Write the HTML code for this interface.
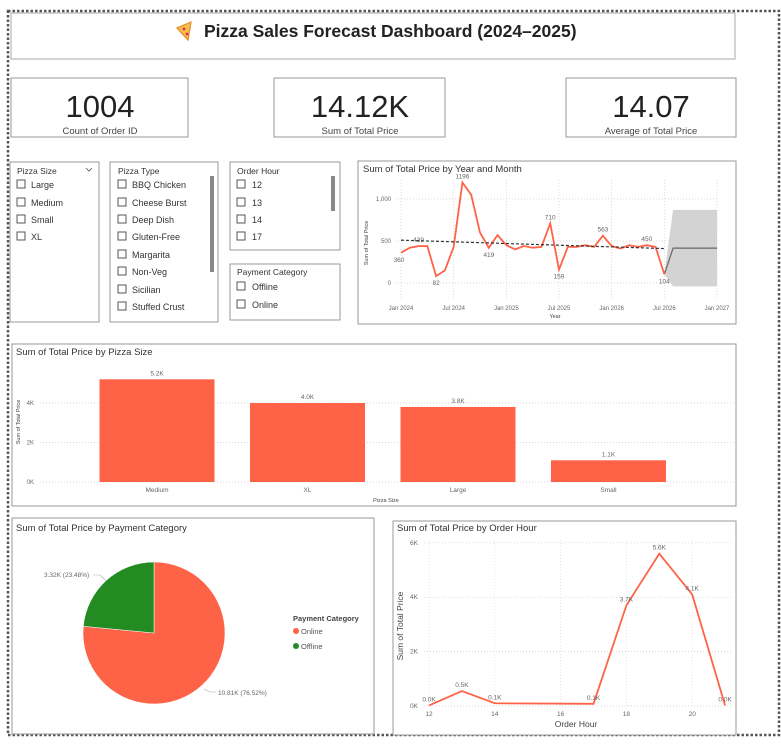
<!DOCTYPE html>
<html><head><meta charset="utf-8">
<style>
body{margin:0;background:#fff;font-family:"Liberation Sans","DejaVu Sans",sans-serif;}
svg text{font-family:"Liberation Sans","DejaVu Sans",sans-serif;}
</style></head>
<body>
<svg id="root" width="781" height="739" viewBox="0 0 781 739" xmlns="http://www.w3.org/2000/svg">
<rect x="0" y="0" width="781" height="739" fill="#fff"/>
<rect x="8" y="11" width="771" height="724" fill="none" stroke="#555" stroke-width="2.5" stroke-dasharray="2.5 2"/>

<g>
<rect x="11" y="13" width="724" height="46" fill="#fff" stroke="#aaa" stroke-width="1"/>
<g>
<path d="M191 22 L177 28 L188 40 Z" fill="#f7c04a" stroke="#e88a2a" stroke-width="1.2"/>
<circle cx="184" cy="29" r="1.4" fill="#e0245e"/>
<circle cx="187" cy="34" r="1.4" fill="#e0245e"/>
</g>
<text x="204" y="37" font-size="17.5" font-weight="bold" fill="#222">Pizza Sales Forecast Dashboard (2024–2025)</text>
</g>

<g>
<rect x="11" y="78" width="177" height="59" fill="#fff" stroke="#999"/>
<text x="100" y="117" font-size="31" text-anchor="middle" fill="#222">1004</text>
<text x="100" y="134" font-size="9.5" text-anchor="middle" fill="#444">Count of Order ID</text>
</g>
<g>
<rect x="274" y="78" width="171" height="59" fill="#fff" stroke="#999"/>
<text x="360" y="117" font-size="31" text-anchor="middle" fill="#222">14.12K</text>
<text x="360" y="134" font-size="9.5" text-anchor="middle" fill="#444">Sum of Total Price</text>
</g>
<g>
<rect x="566" y="78" width="170" height="59" fill="#fff" stroke="#999"/>
<text x="651" y="117" font-size="31" text-anchor="middle" fill="#222">14.07</text>
<text x="651" y="134" font-size="9.5" text-anchor="middle" fill="#444">Average of Total Price</text>
</g>

<g>
<rect x="10" y="162" width="89" height="160" fill="#fff" stroke="#999"/>
<text x="17" y="174" font-size="8.5" fill="#333">Pizza Size</text>
<path d="M86 168 l3 3 l3 -3" fill="none" stroke="#555" stroke-width="0.8"/>
<g font-size="9" fill="#333">
<rect x="17" y="180" width="8" height="8" fill="none" stroke="#555"/><text x="31" y="188">Large</text>
<rect x="17" y="198" width="8" height="8" fill="none" stroke="#555"/><text x="31" y="206">Medium</text>
<rect x="17" y="215" width="8" height="8" fill="none" stroke="#555"/><text x="31" y="223">Small</text>
<rect x="17" y="232" width="8" height="8" fill="none" stroke="#555"/><text x="31" y="240">XL</text>
</g></g>

<g>
<rect x="110" y="162" width="108" height="160" fill="#fff" stroke="#999"/>
<text x="118" y="174" font-size="8.5" fill="#333">Pizza Type</text>
<rect x="210" y="176" width="4" height="96" fill="#888"/>
<g font-size="9" fill="#333">
<rect x="118" y="180" width="8" height="8" fill="none" stroke="#555"/><text x="132" y="188">BBQ Chicken</text>
<rect x="118" y="198" width="8" height="8" fill="none" stroke="#555"/><text x="132" y="206">Cheese Burst</text>
<rect x="118" y="215" width="8" height="8" fill="none" stroke="#555"/><text x="132" y="223">Deep Dish</text>
<rect x="118" y="232" width="8" height="8" fill="none" stroke="#555"/><text x="132" y="240">Gluten-Free</text>
<rect x="118" y="250" width="8" height="8" fill="none" stroke="#555"/><text x="132" y="258">Margarita</text>
<rect x="118" y="267" width="8" height="8" fill="none" stroke="#555"/><text x="132" y="275">Non-Veg</text>
<rect x="118" y="285" width="8" height="8" fill="none" stroke="#555"/><text x="132" y="293">Sicilian</text>
<rect x="118" y="302" width="8" height="8" fill="none" stroke="#555"/><text x="132" y="310">Stuffed Crust</text>
</g></g>

<g>
<rect x="230" y="162" width="110" height="88" fill="#fff" stroke="#999"/>
<text x="237" y="174" font-size="8.5" fill="#333">Order Hour</text>
<rect x="331" y="176" width="4" height="35" fill="#888"/>
<g font-size="9" fill="#333">
<rect x="237" y="180" width="8" height="8" fill="none" stroke="#555"/><text x="252" y="188">12</text>
<rect x="237" y="198" width="8" height="8" fill="none" stroke="#555"/><text x="252" y="206">13</text>
<rect x="237" y="215" width="8" height="8" fill="none" stroke="#555"/><text x="252" y="223">14</text>
<rect x="237" y="232" width="8" height="8" fill="none" stroke="#555"/><text x="252" y="240">17</text>
</g></g>

<g>
<rect x="230" y="264" width="110" height="56" fill="#fff" stroke="#999"/>
<text x="237" y="275" font-size="8.5" fill="#333">Payment Category</text>
<g font-size="9" fill="#333">
<rect x="237" y="282" width="8" height="8" fill="none" stroke="#555"/><text x="252" y="290">Offline</text>
<rect x="237" y="300" width="8" height="8" fill="none" stroke="#555"/><text x="252" y="308">Online</text>
</g></g>

<g id="line1">
<rect x="358" y="161" width="378" height="163" fill="#fff" stroke="#999"/>
<text x="363" y="172" font-size="9.5" fill="#333">Sum of Total Price by Year and Month</text>
<text transform="translate(368,243) rotate(-90)" font-size="5.5" fill="#444" text-anchor="middle">Sum of Total Price</text>
<text x="555" y="318" font-size="5.5" fill="#444" text-anchor="middle">Year</text>
</g>

<g id="bar1">
<rect x="12" y="344" width="724" height="162" fill="#fff" stroke="#999"/>
<text x="16" y="355" font-size="9.5" fill="#333">Sum of Total Price by Pizza Size</text>
<text transform="translate(20,422) rotate(-90)" font-size="5.5" fill="#444" text-anchor="middle">Sum of Total Price</text>
<text x="386" y="502" font-size="5.5" fill="#444" text-anchor="middle">Pizza Size</text>
</g>

<g id="pie1">
<rect x="12" y="518" width="362" height="216" fill="#fff" stroke="#999"/>
<text x="16" y="531" font-size="9.5" fill="#333">Sum of Total Price by Payment Category</text>
<text x="293" y="621" font-size="7.5" font-weight="bold" fill="#444">Payment Category</text>
<circle cx="296" cy="631" r="3" fill="#ff6347"/>
<text x="301" y="634" font-size="7.5" fill="#555">Online</text>
<circle cx="296" cy="646" r="3" fill="#228b22"/>
<text x="301" y="649" font-size="7.5" fill="#555">Offline</text>
</g>

<g id="line2">
<rect x="393" y="521" width="343" height="214" fill="#fff" stroke="#999"/>
<text x="397" y="531" font-size="9.5" fill="#333">Sum of Total Price by Order Hour</text>
<text transform="translate(403,626) rotate(-90)" font-size="8.5" fill="#444" text-anchor="middle">Sum of Total Price</text>
<text x="576" y="727" font-size="8.5" fill="#444" text-anchor="middle">Order Hour</text>
</g>
</svg>
<script>
// ---------- Year/Month chart data ----------
const monthLabels = ["Jan 2024","Jul 2024","Jan 2025","Jul 2025","Jan 2026","Jul 2026","Jan 2027"];
const monthValues = [360,420,439,440,82,150,430,1196,1050,600,419,570,450,400,440,420,430,710,159,430,430,450,430,563,440,410,450,430,450,430,104];
const monthLabelIdx = [0,2,4,7,10,17,18,23,28,30];
const forecastValues = [415,415,415,415,415,415];
const forecastUpper = [870,870,870,870,870,870];
const forecastLower = [-40,-40,-40,-40,-40,-40];
const trendStartEnd = [510,410];
const monthTicks = [0,500,1000];
const monthTickLabels = ["0","500","1,000"];
// ---------- Pizza size ----------
const sizeCats = ["Medium","XL","Large","Small"];
const sizeVals = [5.2,4.0,3.8,1.1];
const sizeTicks = [0,2,4];
// ---------- Payment ----------
const payCats = ["Online","Offline"];
const payVals = [10.81,3.32];
const payPct = ["76.52%","23.48%"];
// ---------- Order hour ----------
const hourCats = [12,13,14,17,18,19,20,21];
const hourVals = [0.02,0.55,0.1,0.08,3.7,5.6,4.1,0.02];
const hourLabels = ["0.0K","0.5K","0.1K","0.1K","3.7K","5.6K","4.1K","0.0K"];
const hourTicks = [0,2,4,6];
const hourXTicks = [12,14,16,18,20];

const NS="http://www.w3.org/2000/svg";
function mk(parent,tag,attrs,txt){const e=document.createElementNS(NS,tag);for(const k in attrs)e.setAttribute(k,attrs[k]);if(txt!==undefined)e.textContent=txt;parent.appendChild(e);return e;}
const RED="#ff6347";

// Line chart 1
(function(){
 const g=document.getElementById('line1');
 const x=i=>401+i*(316/36), y=v=>283-v*0.084;
 monthTicks.forEach((t,i)=>{mk(g,'line',{x1:395,x2:718,y1:y(t),y2:y(t),stroke:'#ccc','stroke-dasharray':'1 2','stroke-width':0.7});
  const l=mk(g,'text',{x:391,y:y(t)+2,'font-size':6,fill:'#666','text-anchor':'end'},monthTickLabels[i]);
  
  });
 monthLabels.forEach((m,i)=>{mk(g,'line',{x1:x(i*6),x2:x(i*6),y1:180,y2:300,stroke:'#ccc','stroke-dasharray':'1 2','stroke-width':0.7});
  const l=mk(g,'text',{x:x(i*6),y:310,'font-size':6,fill:'#666','text-anchor':'middle'},m);
  
  });
 const n=monthValues.length-1;
 let up="M"+x(n)+" "+y(monthValues[n]), lo="";
 forecastUpper.forEach((v,i)=>up+=" L"+x(n+1+i)+" "+y(v));
 for(let i=forecastLower.length-1;i>=0;i--)lo+=" L"+x(n+1+i)+" "+y(forecastLower[i]);
 const band=mk(g,'path',{d:up+lo+" Z",fill:'#d3d3d3'});
 
 
 let fp="M"+x(n)+" "+y(monthValues[n]);forecastValues.forEach((v,i)=>fp+=" L"+x(n+1+i)+" "+y(v));
 const f=mk(g,'path',{d:fp,fill:'none',stroke:'#666','stroke-width':1.2});
 
 
 const p=mk(g,'path',{d:monthValues.map((v,i)=>(i?'L':'M')+x(i)+' '+y(v)).join(' '),fill:'none',stroke:RED,'stroke-width':1.8});
 
 
 const t=mk(g,'line',{x1:x(0),y1:y(trendStartEnd[0]),x2:x(n),y2:y(trendStartEnd[1]),stroke:'#333','stroke-dasharray':'3 2','stroke-width':1.2});
 
 
 monthLabelIdx.forEach(i=>{const v=monthValues[i];const above=(i===2||i===7||i===17||i===23||i===28);
  const l=mk(g,'text',{x:x(i)+(i===0?-2:0),y:above?y(v)-4:y(v)+9,'font-size':6.5,fill:'#666','text-anchor':'middle'},String(v));
  
  });
})();

// Bar chart
(function(){
 const g=document.getElementById('bar1');
 const y=v=>482-v*19.75, x=i=>157+i*150.5;
 sizeTicks.forEach(t=>{mk(g,'line',{x1:40,x2:735,y1:y(t),y2:y(t),stroke:'#ccc','stroke-dasharray':'1 2','stroke-width':0.7});
  const l=mk(g,'text',{x:34,y:y(t)+2,'font-size':6,fill:'#666','text-anchor':'end'},t+'K');
  
  });
 sizeCats.forEach((c,i)=>{
  const b=mk(g,'rect',{x:x(i)-57.5,y:y(sizeVals[i]),width:115,height:sizeVals[i]*19.75,fill:RED});
  
  
  const v=mk(g,'text',{x:x(i),y:y(sizeVals[i])-4,'font-size':6.5,fill:'#666','text-anchor':'middle'},sizeVals[i].toFixed(1)+'K');
  
  
  const l=mk(g,'text',{x:x(i),y:492,'font-size':6.5,fill:'#666','text-anchor':'middle'},c);
  
  });
})();

// Pie
(function(){
 const g=document.getElementById('pie1');
 const cx=154,cy=633,r=71,cols=[RED,'#228b22'];
 const tot=payVals.reduce((a,b)=>a+b,0);let a0=0;
 payVals.forEach((v,i)=>{const a1=a0+v/tot*2*Math.PI;
  const p=(a)=>[cx+r*Math.sin(a),cy-r*Math.cos(a)];
  const s=p(a0),e=p(a1),large=(a1-a0)>Math.PI?1:0;
  const sl=mk(g,'path',{d:`M${cx} ${cy} L${s[0]} ${s[1]} A${r} ${r} 0 ${large} 1 ${e[0]} ${e[1]} Z`,fill:cols[i],stroke:'#fff','stroke-width':0.5});
  
  
  a0=a1;});
 const l1=mk(g,'text',{x:218,y:695,'font-size':6.5,fill:'#666'},payVals[0].toFixed(2)+'K ('+payPct[0]+')');
 
 
 mk(g,'path',{d:'M204 689 L210 692 L216 692',fill:'none',stroke:'#aaa','stroke-width':0.6});
 const l2=mk(g,'text',{x:44,y:577,'font-size':6.5,fill:'#666'},payVals[1].toFixed(2)+'K ('+payPct[1]+')');
 
 
 mk(g,'path',{d:'M93 575 L100 575 L106 581',fill:'none',stroke:'#aaa','stroke-width':0.6});
})();

// Order hour line
(function(){
 const g=document.getElementById('line2');
 const x=h=>429+(h-12)*32.9, y=v=>706-v*27.2;
 hourTicks.forEach(t=>{mk(g,'line',{x1:424,x2:731,y1:y(t),y2:y(t),stroke:'#ccc','stroke-dasharray':'1 2','stroke-width':0.7});
  const l=mk(g,'text',{x:418,y:y(t)+2,'font-size':6.5,fill:'#666','text-anchor':'end'},t+'K');
  
  });
 hourXTicks.forEach(h=>{mk(g,'line',{x1:x(h),x2:x(h),y1:540,y2:706,stroke:'#ddd','stroke-dasharray':'1 2','stroke-width':0.7});
  const l=mk(g,'text',{x:x(h),y:716,'font-size':6.5,fill:'#666','text-anchor':'middle'},String(h));
  
  });
 const p=mk(g,'path',{d:hourCats.map((h,i)=>(i?'L':'M')+x(h)+' '+y(hourVals[i])).join(' '),fill:'none',stroke:RED,'stroke-width':1.8});
 
 
 hourCats.forEach((h,i)=>{const l=mk(g,'text',{x:x(h),y:y(hourVals[i])-4,'font-size':6.5,fill:'#666','text-anchor':'middle'},hourLabels[i]);
  
  });
})();
</script>
</body></html>
